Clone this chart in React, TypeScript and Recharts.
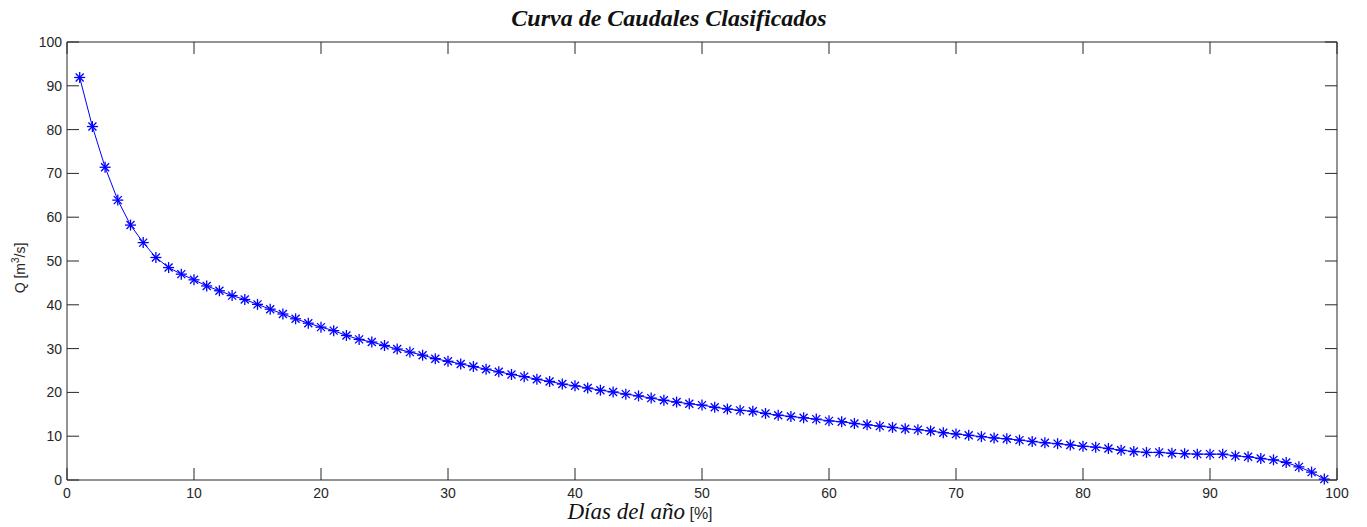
import { Line, LineChart, XAxis, YAxis } from "recharts";

// percentage of the year (x) and classified flow in m3/s (y)
const dias = [
  1, 2, 3, 4, 5, 6, 7, 8, 9, 10, 11, 12, 13, 14, 15, 16, 17, 18, 19, 20,
  21, 22, 23, 24, 25, 26, 27, 28, 29, 30, 31, 32, 33, 34, 35, 36, 37, 38, 39, 40,
  41, 42, 43, 44, 45, 46, 47, 48, 49, 50, 51, 52, 53, 54, 55, 56, 57, 58, 59, 60,
  61, 62, 63, 64, 65, 66, 67, 68, 69, 70, 71, 72, 73, 74, 75, 76, 77, 78, 79, 80,
  81, 82, 83, 84, 85, 86, 87, 88, 89, 90, 91, 92, 93, 94, 95, 96, 97, 98, 99,
];

const caudal = [
  91.9, 80.7, 71.4, 63.9, 58.2, 54.2, 50.8, 48.5, 47.0, 45.7,
  44.3, 43.2, 42.1, 41.2, 40.1, 39.0, 37.9, 36.8, 35.8, 34.9,
  34.1, 33.0, 32.1, 31.5, 30.7, 29.9, 29.2, 28.5, 27.7, 27.1,
  26.5, 25.9, 25.3, 24.7, 24.1, 23.6, 23.0, 22.5, 21.9, 21.5,
  21.0, 20.5, 20.1, 19.6, 19.2, 18.7, 18.2, 17.8, 17.4, 17.1,
  16.6, 16.2, 15.9, 15.7, 15.2, 14.8, 14.5, 14.2, 13.9, 13.5,
  13.3, 12.9, 12.6, 12.3, 12.0, 11.7, 11.5, 11.2, 10.8, 10.5,
  10.2, 9.9, 9.6, 9.4, 9.1, 8.8, 8.5, 8.3, 8.0, 7.7,
  7.5, 7.2, 6.8, 6.5, 6.3, 6.3, 6.1, 6.0, 5.9, 5.9,
  5.9, 5.5, 5.3, 4.9, 4.6, 4.0, 3.0, 1.8, 0.2,
];

const xTicks = [0, 10, 20, 30, 40, 50, 60, 70, 80, 90, 100];
const yTicks = [0, 10, 20, 30, 40, 50, 60, 70, 80, 90, 100];

const data = dias.map((d, i) => ({ d, q: caudal[i] }));

const AXIS = "#262626";
const TICK_LEN = 12;
const tickFont = { fontFamily: "'Liberation Sans', Arial, sans-serif", fontSize: 14, fill: AXIS };

function BottomTick({ x, y, payload }: any) {
  return (
    <g>
      <line x1={x} x2={x} y1={y} y2={y - TICK_LEN} stroke={AXIS} />
      <text x={x} y={y + 18} textAnchor="middle" {...tickFont}>
        {payload.value}
      </text>
    </g>
  );
}

function TopTick({ x, y }: any) {
  return <line x1={x} x2={x} y1={y} y2={y + TICK_LEN} stroke={AXIS} />;
}

function LeftTick({ x, y, payload }: any) {
  return (
    <g>
      <line x1={x} x2={x + TICK_LEN} y1={y} y2={y} stroke={AXIS} />
      <text x={x - 5} y={y + 5} textAnchor="end" {...tickFont}>
        {payload.value}
      </text>
    </g>
  );
}

function RightTick({ x, y }: any) {
  return <line x1={x} x2={x - TICK_LEN} y1={y} y2={y} stroke={AXIS} />;
}

function Asterisk({ cx, cy }: any) {
  if (cx == null || cy == null) return null;
  const a = 5.5;
  const b = 4;
  return (
    <g stroke="#0000ff" strokeWidth={1.3}>
      <line x1={cx - a} x2={cx + a} y1={cy} y2={cy} />
      <line x1={cx} x2={cx} y1={cy - a} y2={cy + a} />
      <line x1={cx - b} x2={cx + b} y1={cy - b} y2={cy + b} />
      <line x1={cx - b} x2={cx + b} y1={cy + b} y2={cy - b} />
    </g>
  );
}

export default function App() {
  return (
    <div
      style={{
        position: "absolute",
        left: 0,
        top: 0,
        width: 1367,
        height: 527,
        background: "#fff",
      }}
    >
      <LineChart
        width={1367}
        height={527}
        data={data}
        margin={{ top: 32, right: 20, bottom: 17, left: 27 }}
      >
        <XAxis
          xAxisId="b"
          dataKey="d"
          type="number"
          domain={[0, 100]}
          ticks={xTicks}
          height={30}
          tickSize={0}
          tickMargin={0}
          tick={<BottomTick />}
          axisLine={{ stroke: AXIS }}
          interval={0}
        />
        <XAxis
          xAxisId="t"
          dataKey="d"
          orientation="top"
          type="number"
          domain={[0, 100]}
          ticks={xTicks}
          height={10}
          tickSize={0}
          tickMargin={0}
          tick={<TopTick />}
          axisLine={{ stroke: AXIS }}
          interval={0}
        />
        <YAxis
          yAxisId="l"
          type="number"
          domain={[0, 100]}
          ticks={yTicks}
          width={40}
          tickSize={0}
          tickMargin={0}
          tick={<LeftTick />}
          axisLine={{ stroke: AXIS }}
          interval={0}
        />
        <YAxis
          yAxisId="r"
          orientation="right"
          type="number"
          domain={[0, 100]}
          ticks={yTicks}
          width={10}
          tickSize={0}
          tickMargin={0}
          tick={<RightTick />}
          axisLine={{ stroke: AXIS }}
          interval={0}
        />
        {/* invisible twin so the top/right box axes get laid out */}
        <Line
          xAxisId="t"
          yAxisId="r"
          type="linear"
          dataKey="q"
          stroke="none"
          dot={false}
          activeDot={false}
          legendType="none"
          isAnimationActive={false}
        />
        <Line
          xAxisId="b"
          yAxisId="l"
          type="linear"
          dataKey="q"
          stroke="#0000ff"
          strokeWidth={1}
          dot={<Asterisk />}
          activeDot={false}
          isAnimationActive={false}
        />
      </LineChart>

      <div
        style={{
          position: "absolute",
          left: 669,
          top: 5,
          transform: "translateX(-50%)",
          whiteSpace: "nowrap",
          fontFamily: "'Liberation Serif', serif",
          fontStyle: "italic",
          fontWeight: "bold",
          fontSize: 24,
          color: "#111",
        }}
      >
        Curva de Caudales Clasificados
      </div>

      <div
        style={{
          position: "absolute",
          left: 640,
          top: 499,
          transform: "translateX(-50%)",
          whiteSpace: "nowrap",
          color: "#111",
        }}
      >
        <span style={{ fontFamily: "'Liberation Serif', serif", fontStyle: "italic", fontSize: 23 }}>
          Días del año
        </span>
        <span style={{ fontFamily: "'Liberation Sans', sans-serif", fontSize: 16, color: AXIS }}> [%]</span>
      </div>

      <div
        style={{
          position: "absolute",
          left: 19,
          top: 268,
          transform: "translate(-50%, -50%) rotate(-90deg)",
          whiteSpace: "nowrap",
          fontFamily: "'Liberation Sans', sans-serif",
          fontSize: 14,
          color: AXIS,
        }}
      >
        Q [m<sup style={{ fontSize: 10 }}>3</sup>/s]
      </div>
    </div>
  );
}
